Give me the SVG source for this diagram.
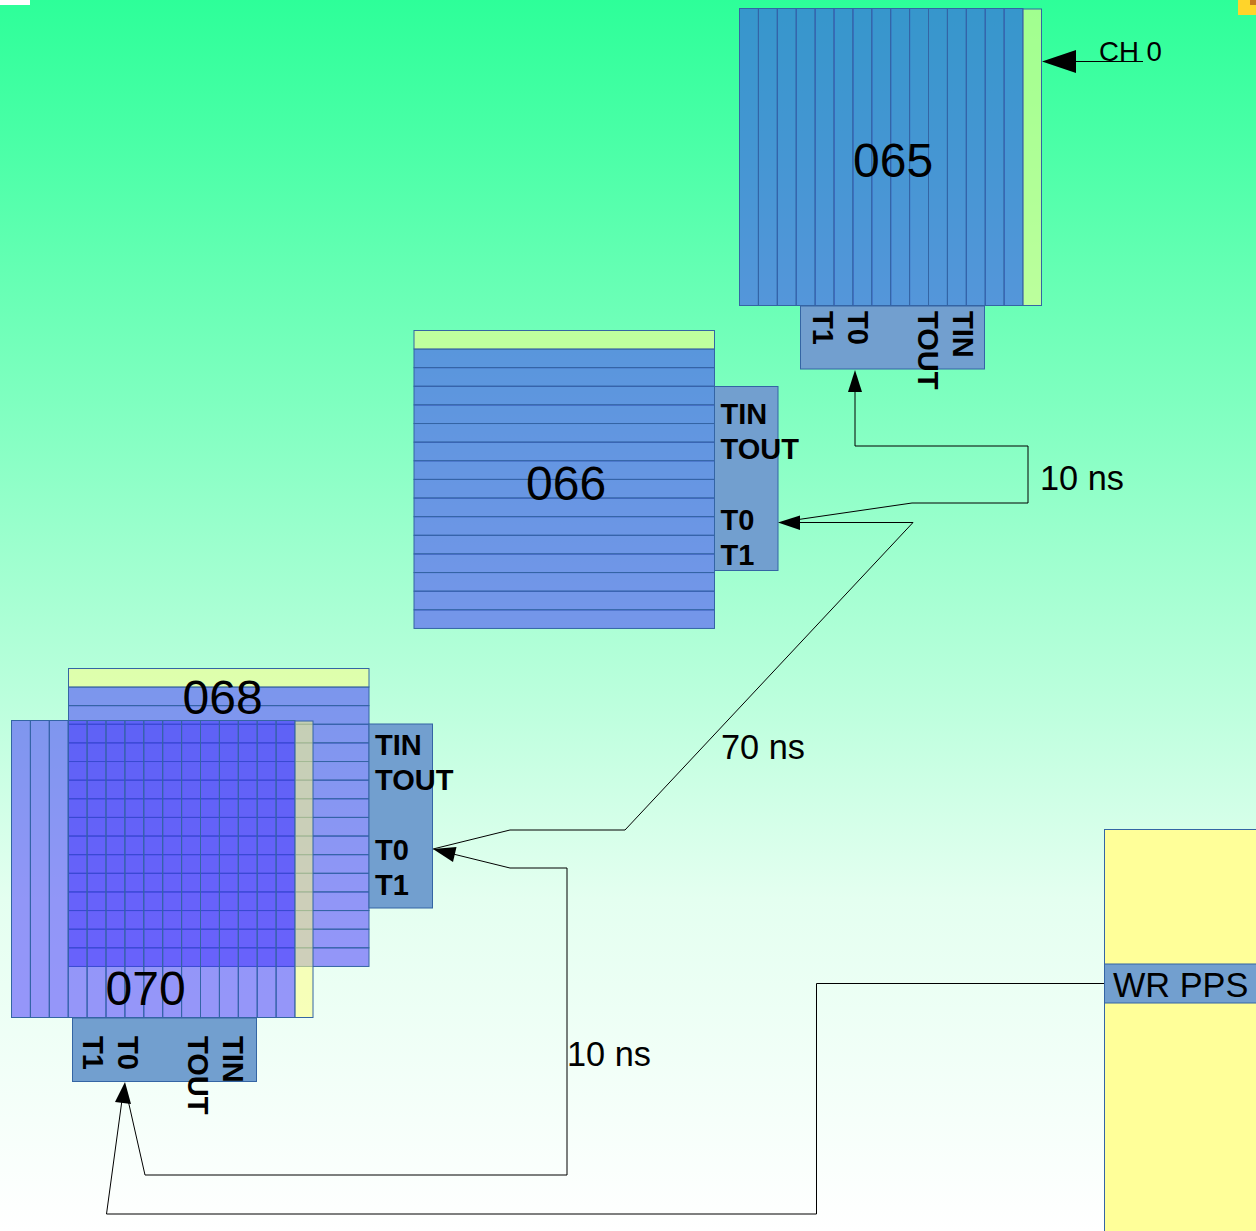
<svg xmlns="http://www.w3.org/2000/svg" width="1256" height="1231" viewBox="0 0 1256 1231">
<style>
.c{fill:#3e2efe;fill-opacity:.5;stroke:#3465a4;stroke-width:1}
.s{fill:#ffff87;fill-opacity:.55;stroke:#3465a4;stroke-width:1}
.p{fill:#729fcf;stroke:#3465a4;stroke-width:1}
text{font-family:"Liberation Sans",Arial,sans-serif;fill:#000}
.n{font-size:48px}
.b{font-size:29px;font-weight:bold}
.l{font-size:34.3px}
.k{fill:none;stroke:#000;stroke-width:1}
.h{fill:#000;stroke:none}
</style>
<defs>
<linearGradient id="bg" gradientUnits="userSpaceOnUse" x1="0" y1="0" x2="0" y2="1231"><stop offset="0" stop-color="#2dff99"/><stop offset=".73" stop-color="#e4fff0"/><stop offset="1" stop-color="#ffffff"/></linearGradient>
<g id="rows">
<rect class="c" x="0" y="0" width="300.5" height="18.63"/><rect class="c" x="0" y="18.63" width="300.5" height="18.63"/><rect class="c" x="0" y="37.26" width="300.5" height="18.63"/><rect class="c" x="0" y="55.89" width="300.5" height="18.63"/><rect class="c" x="0" y="74.52" width="300.5" height="18.63"/><rect class="c" x="0" y="93.15" width="300.5" height="18.63"/><rect class="c" x="0" y="111.78" width="300.5" height="18.63"/><rect class="c" x="0" y="130.41" width="300.5" height="18.63"/><rect class="c" x="0" y="149.04" width="300.5" height="18.63"/><rect class="c" x="0" y="167.67" width="300.5" height="18.63"/><rect class="c" x="0" y="186.3" width="300.5" height="18.63"/><rect class="c" x="0" y="204.93" width="300.5" height="18.63"/><rect class="c" x="0" y="223.56" width="300.5" height="18.63"/><rect class="c" x="0" y="242.19" width="300.5" height="18.63"/><rect class="c" x="0" y="260.82" width="300.5" height="18.63"/>
</g>
<g id="cols">
<rect class="c" x="0" y="0" width="18.9" height="297"/><rect class="c" x="18.9" y="0" width="18.9" height="297"/><rect class="c" x="37.8" y="0" width="18.9" height="297"/><rect class="c" x="56.7" y="0" width="18.9" height="297"/><rect class="c" x="75.6" y="0" width="18.9" height="297"/><rect class="c" x="94.5" y="0" width="18.9" height="297"/><rect class="c" x="113.4" y="0" width="18.9" height="297"/><rect class="c" x="132.3" y="0" width="18.9" height="297"/><rect class="c" x="151.2" y="0" width="18.9" height="297"/><rect class="c" x="170.1" y="0" width="18.9" height="297"/><rect class="c" x="189" y="0" width="18.9" height="297"/><rect class="c" x="207.9" y="0" width="18.9" height="297"/><rect class="c" x="226.8" y="0" width="18.9" height="297"/><rect class="c" x="245.7" y="0" width="18.9" height="297"/><rect class="c" x="264.6" y="0" width="18.9" height="297"/>
</g>
</defs>
<rect width="1256" height="1231" fill="url(#bg)"/>
<rect x="0" y="0" width="30" height="5" fill="#fff"/>
<g id="corner"><rect x="1238" y="0" width="18" height="15" fill="#ffd42a"/><rect x="1250" y="0" width="6" height="5" fill="#c8781e"/></g>
<g id="n068">
<use href="#rows" x="68.5" y="687"/>
<rect class="s" x="68.5" y="668.5" width="300.5" height="18.5"/>
<rect class="p" x="369" y="724" width="63.5" height="184"/>
<text class="n" x="182.5" y="714">068</text>
<text class="b" x="375" y="755">TIN</text><text class="b" x="375" y="790">TOUT</text><text class="b" x="375" y="860">T0</text><text class="b" x="375" y="895">T1</text>
</g>
<g id="n070">
<use href="#cols" x="11.5" y="720.5"/>
<rect class="s" x="295" y="721" width="18" height="296.5"/>
<rect class="p" x="72.5" y="1018" width="184" height="63.5"/>
<text class="n" x="105.5" y="1005">070</text>
<text class="b" transform="translate(223 1036) rotate(90)">TIN</text><text class="b" transform="translate(188 1036) rotate(90)">TOUT</text><text class="b" transform="translate(118 1036) rotate(90)">T0</text><text class="b" transform="translate(83 1036) rotate(90)">T1</text>
</g>
<g id="n066">
<use href="#rows" x="414" y="349"/>
<rect class="s" x="414" y="330.5" width="300.5" height="18.5"/>
<rect class="p" x="714.5" y="386.5" width="63.5" height="184"/>
<text class="n" x="526" y="500">066</text>
<text class="b" x="720.5" y="424">TIN</text><text class="b" x="720.5" y="459">TOUT</text><text class="b" x="720.5" y="530">T0</text><text class="b" x="720.5" y="565">T1</text>
</g>
<g id="n065">
<use href="#cols" x="739.5" y="8.5"/>
<rect class="s" x="1023" y="9" width="18.5" height="296.5"/>
<rect class="p" x="800.5" y="306" width="184" height="63"/>
<text class="n" x="853" y="177">065</text>
<text class="b" transform="translate(953 311) rotate(90)">TIN</text><text class="b" transform="translate(918 311) rotate(90)">TOUT</text><text class="b" transform="translate(848 311) rotate(90)">T0</text><text class="b" transform="translate(813 311) rotate(90)">T1</text>
</g>
<g id="nwr">
<rect x="1104.5" y="829.5" width="160" height="410" fill="#ffff99" stroke="#3465a4"/>
<rect class="p" x="1104.5" y="964" width="160" height="39"/>
<text class="l" x="1113" y="997">WR PPS</text>
</g>
<g id="connectors">
<path class="k" d="M1143 61.5H1060"/><path class="h" d="M1042 61.5L1076 50V73Z"/>
<path class="k" d="M855 446V385"/><path class="h" d="M855 370L848 392H862Z"/>
<path class="k" d="M855 446H1028V503H912L795 520"/>
<path class="k" d="M433 849L510 830H625L913 522.5H795"/><path class="h" d="M778 522.5L800 515.5V530Z"/>
<path class="k" d="M567 868H510L445 852"/><path class="h" d="M433 849L456.5 847L453 862Z"/>
<path class="k" d="M567 868V1175H145L128 1100"/><path class="h" d="M125 1082L115 1102L131 1104Z"/>
<path class="k" d="M1104 983.5H816.5V1214H106.5L122 1100"/>
</g>
<g id="labels">
<text x="1099" y="61" style="font-size:27.6px">CH 0</text>
<text class="l" x="1040" y="490">10 ns</text>
<text class="l" x="721" y="759">70 ns</text>
<text class="l" x="567" y="1066">10 ns</text>
</g>
</svg>
